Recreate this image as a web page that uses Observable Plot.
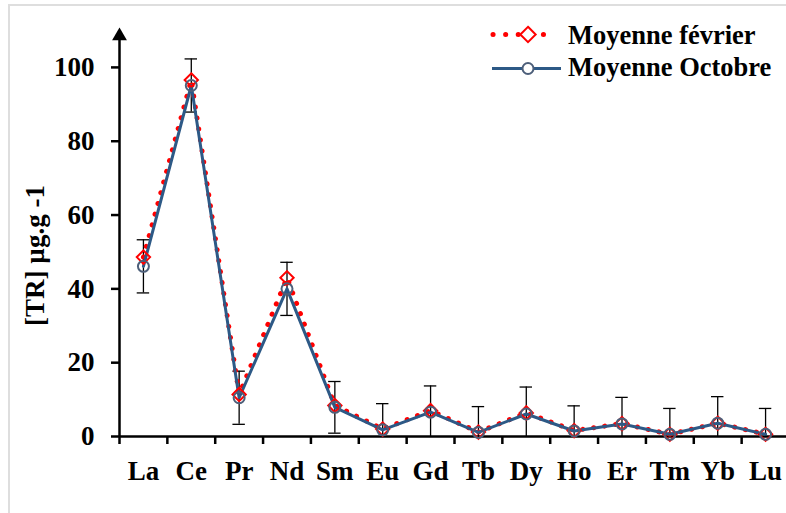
<!DOCTYPE html>
<html>
<head>
<meta charset="utf-8">
<script src="https://cdn.jsdelivr.net/npm/d3@7"></script>
<script src="https://cdn.jsdelivr.net/npm/@observablehq/plot@0.6"></script>
<style>
  html, body { margin: 0; padding: 0; background: #fff; }
  #wrap { position: relative; width: 786px; height: 513px; overflow: hidden; }
  #border { position: absolute; left: 8px; top: 4px; width: 800px; height: 520px;
            border-left: 2px solid #dedede; border-top: 2px solid #dedede; }
  #chart, #legend { position: absolute; left: 0; top: 0; }
  #legend { pointer-events: none; }
</style>
</head>
<body>
<div id="wrap">
  <div id="border"></div>
  <div id="chart"></div>
  <div id="legend"></div>
</div>
<script>
// ---- data ----
const elements = ["La", "Ce", "Pr", "Nd", "Sm", "Eu", "Gd", "Tb", "Dy", "Ho", "Er", "Tm", "Yb", "Lu"];
const fevrier  = [48.6, 96.6, 11.4, 43.0, 8.4, 2.0, 7.0, 1.2, 6.4, 1.6, 3.5, 0.6, 3.6, 0.6];
const octobre  = [46.1, 95.1, 10.5, 40.0, 7.9, 1.8, 6.6, 1.1, 6.1, 1.5, 3.4, 0.6, 3.6, 0.6];
const erreur   = [7.2, 7.2, 7.2, 7.2, 7.0, 7.1, 7.1, 7.0, 7.3, 6.8, 7.2, 7.0, 7.2, 7.0];
const yTicks   = [0, 20, 40, 60, 80, 100];
const yDomain  = [0, 110];
const seriesNames = ["Moyenne février", "Moyenne Octobre"];
const yLabel = "[TR] µg.g -1";

const red = "#ff0000";
const blueLine = "#2d5986";
const blueMarker = "#4d5f7a";
const serif = "'Liberation Serif', 'Times New Roman', serif";
const dots = "0.1 11";

const data = elements.map((e, i) => ({i, e, fev: fevrier[i], oct: octobre[i], err: erreur[i]}));
const bounds = d3.range(elements.length + 1).map(k => k - 0.5);

const chart = Plot.plot({
  width: 786,
  height: 513,
  marginLeft: 119,
  marginRight: -3,
  marginTop: 30,
  marginBottom: 77,
  style: {fontFamily: serif, fontWeight: "bold", background: "transparent", color: "#000", overflow: "visible"},
  x: {type: "linear", domain: [-0.5, elements.length - 0.5], axis: null},
  y: {domain: yDomain, axis: null},
  marks: [
    // error bars
    Plot.ruleX(data, {x: "i", y1: d => Math.max(0, d.oct - d.err), y2: d => d.oct + d.err, stroke: "#000", strokeWidth: 1.3}),
    Plot.ruleY(data, {y: d => d.oct + d.err, x1: d => d.i - 0.13, x2: d => d.i + 0.13, stroke: "#000", strokeWidth: 1.3}),
    Plot.ruleY(data.filter(d => d.oct - d.err > 0), {y: d => d.oct - d.err, x1: d => d.i - 0.13, x2: d => d.i + 0.13, stroke: "#000", strokeWidth: 1.3}),
    // axes
    Plot.axisY(yTicks, {tickSize: 8, tickPadding: 17, fontSize: 27, fontWeight: "bold", strokeWidth: 2.5, label: null}),
    Plot.axisX(bounds, {tickSize: 8, tickFormat: () => "", strokeWidth: 2.5, label: null}),
    Plot.axisX(data.map(d => d.i), {tickSize: 0, tickPadding: 24, tickFormat: i => elements[i], fontSize: 27, fontWeight: "bold", label: null}),
    Plot.ruleX([-0.5], {y1: 0, y2: yDomain[1] - 2, stroke: "#000", strokeWidth: 2.5}),
    Plot.dot([-0.5], {x: d => d, y: () => yDomain[1] - 1.5, symbol: "triangle", fill: "#000", r: 5.5}),
    Plot.ruleY([0], {x1: -0.5, x2: elements.length - 0.5, stroke: "#000", strokeWidth: 2.5}),
    // series
    Plot.line(data, {x: "i", y: "fev", stroke: red, strokeWidth: 5, strokeDasharray: dots, strokeLinecap: "round"}),
    Plot.line(data, {x: "i", y: "oct", stroke: blueLine, strokeWidth: 3}),
    Plot.dot(data, {x: "i", y: "fev", symbol: "diamond2", stroke: red, strokeWidth: 2, r: 6, fill: "none"}),
    Plot.dot(data, {x: "i", y: "oct", symbol: "circle", stroke: blueMarker, strokeWidth: 2, r: 5.5, fill: "none"})
  ]
});
document.getElementById("chart").append(chart);

// ---- legend and axis title overlay ----
const lg = d3.select("#legend").append("svg").attr("width", 786).attr("height", 513);
lg.append("text")
  .attr("transform", "translate(43.5,255.5) rotate(-90)")
  .attr("text-anchor", "middle")
  .attr("font-family", serif).attr("font-weight", "bold").attr("font-size", 27).attr("fill", "#000")
  .text(yLabel);

const rows = [
  {name: seriesNames[0], y: 34.5, base: 43.5},
  {name: seriesNames[1], y: 68.5, base: 75.5}
];
// row 1: dotted red with diamond
lg.append("line").attr("x1", 493).attr("x2", 556).attr("y1", rows[0].y).attr("y2", rows[0].y)
  .attr("stroke", red).attr("stroke-width", 5).attr("stroke-dasharray", "0.1 12.5").attr("stroke-linecap", "round");
lg.append("path").attr("transform", `translate(528,${rows[0].y})`)
  .attr("d", d3.symbol(d3.symbolDiamond2, 150)()).attr("fill", "#fff").attr("stroke", red).attr("stroke-width", 2);
// row 2: blue with circle
lg.append("line").attr("x1", 492).attr("x2", 561).attr("y1", rows[1].y).attr("y2", rows[1].y)
  .attr("stroke", blueLine).attr("stroke-width", 3);
lg.append("circle").attr("cx", 528).attr("cy", rows[1].y).attr("r", 5.5)
  .attr("fill", "#fff").attr("stroke", blueMarker).attr("stroke-width", 2);
lg.selectAll("text.lab").data(rows).join("text").attr("class", "lab")
  .attr("x", 568).attr("y", d => d.base).text(d => d.name)
  .attr("font-family", serif).attr("font-weight", "bold").attr("font-size", 26.5).attr("fill", "#000");
</script>
</body>
</html>
